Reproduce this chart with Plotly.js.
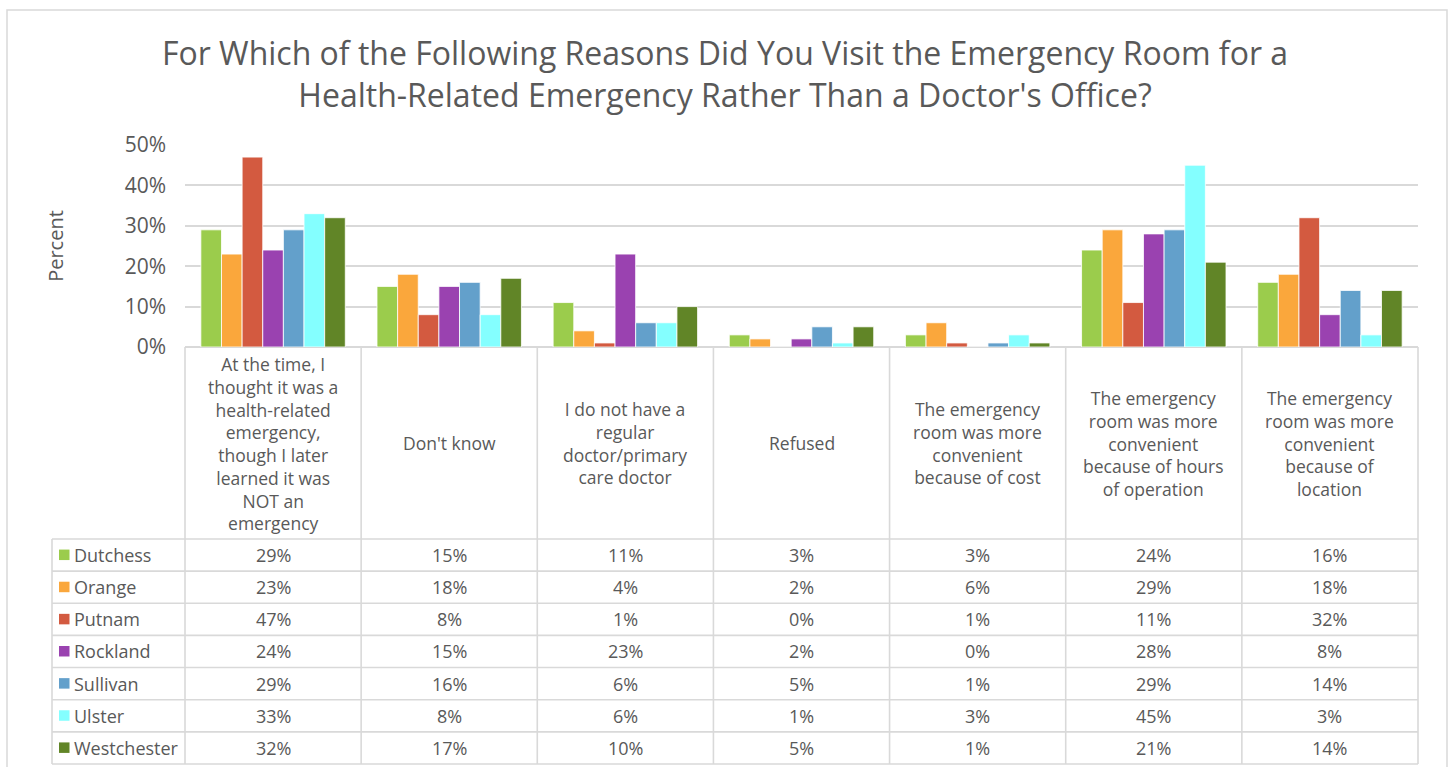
<!DOCTYPE html>
<html>
<head>
<meta charset="utf-8">
<script src="https://cdn.plot.ly/plotly-3.0.1.min.js"></script>
<style>html,body{margin:0;padding:0;background:#fff;}#chart{width:1450px;height:767px;}</style>
</head>
<body>
<div id="chart"></div>
<script>
// ---- data ----
const categories = [
  "At the time, I thought it was a health-related emergency, though I later learned it was NOT an emergency",
  "Don't know",
  "I do not have a regular doctor/primary care doctor",
  "Refused",
  "The emergency room was more convenient because of cost",
  "The emergency room was more convenient because of hours of operation",
  "The emergency room was more convenient because of location"
];
const tickLabels = [
  "At the time, I<br>thought it was a<br>health-related<br>emergency,<br>though I later<br>learned it was<br>NOT an<br>emergency",
  "Don't know",
  "I do not have a<br>regular<br>doctor/primary<br>care doctor",
  "Refused",
  "The emergency<br>room was more<br>convenient<br>because of cost",
  "The emergency<br>room was more<br>convenient<br>because of hours<br>of operation",
  "The emergency<br>room was more<br>convenient<br>because of<br>location"
];
const yTickVals = [0, 10, 20, 30, 40, 50];
const yTickLabels = ["0%", "10%", "20%", "30%", "40%", "50%"];
const seriesNames = ["Dutchess", "Orange", "Putnam", "Rockland", "Sullivan", "Ulster", "Westchester"];
const dutchess    = [29, 15, 11, 3, 3, 24, 16];
const orange      = [23, 18, 4, 2, 6, 29, 18];
const putnam      = [47, 8, 1, 0, 1, 11, 32];
const rockland    = [24, 15, 23, 2, 0, 28, 8];
const sullivan    = [29, 16, 6, 5, 1, 29, 14];
const ulster      = [33, 8, 6, 1, 3, 45, 3];
const westchester = [32, 17, 10, 5, 1, 21, 14];
const seriesValues = [dutchess, orange, putnam, rockland, sullivan, ulster, westchester];
const colors = ["#9BCC4C", "#FAA73C", "#D35A40", "#9A42B0", "#63A0CB", "#84FFFF", "#618527"];

// ---- geometry helpers (pixel -> paper) ----
const W = 1450, H = 767;
const M = {l: 185, r: 32, t: 145, b: 420};
const PW = W - M.l - M.r, PH = H - M.t - M.b;
const px = v => (v - M.l) / PW;
const py = v => (H - M.b - v) / PH;

const FONT = "Open Sans, Noto Sans, sans-serif";
const TXT = "#595959";
const LINE = "#d9d9d9";

const traces = seriesNames.map((name, i) => ({
  type: "bar",
  name: name,
  x: categories,
  y: seriesValues[i],
  marker: {color: colors[i], line: {color: "rgba(255,255,255,0.8)", width: 1}},
  hovertemplate: name + ": %{y}%<extra></extra>"
}));

const shapes = [];
const annotations = [];
const tableTop = H - M.b;     // x-axis line
const rowsTop = 539;
const rowH = 32.14;
const nRows = seriesNames.length;
const tableBottom = rowsTop + rowH * nRows;
const legLeft = 52;
const lw = 1.6;

// outer chart border
shapes.push({type: "rect", xref: "paper", yref: "paper", x0: px(7), x1: px(1447), y0: py(10), y1: py(800),
  line: {color: LINE, width: 1.5}, fillcolor: "rgba(0,0,0,0)", layer: "below"});

// vertical lines of table columns
for (let k = 0; k <= categories.length; k++) {
  const xx = k / categories.length;
  shapes.push({type: "line", xref: "paper", yref: "paper", x0: xx, x1: xx, y0: py(tableTop), y1: py(tableBottom),
    line: {color: LINE, width: lw}});
}
// legend column left border
shapes.push({type: "line", xref: "paper", yref: "paper", x0: px(legLeft), x1: px(legLeft), y0: py(rowsTop), y1: py(tableBottom),
  line: {color: LINE, width: lw}});
// horizontal row lines
for (let r = 0; r <= nRows; r++) {
  const yy = py(rowsTop + r * rowH);
  shapes.push({type: "line", xref: "paper", yref: "paper", x0: px(legLeft), x1: 1, y0: yy, y1: yy,
    line: {color: LINE, width: lw}});
}

// header category labels
categories.forEach((c, k) => {
  annotations.push({xref: "x", yref: "paper", x: c, y: py((tableTop + rowsTop) / 2),
    text: tickLabels[k], showarrow: false, xanchor: "center", yanchor: "middle", align: "center",
    font: {family: FONT, size: 17.5, color: TXT}});
});

// legend keys + values
seriesNames.forEach((name, i) => {
  const cy = rowsTop + rowH * (i + 0.5);
  shapes.push({type: "rect", xref: "paper", yref: "paper", x0: px(59), x1: px(69.5), y0: py(cy - 5.5), y1: py(cy + 5),
    line: {width: 0}, fillcolor: colors[i]});
  annotations.push({xref: "paper", yref: "paper", x: px(72), y: py(cy), text: name, showarrow: false,
    xanchor: "left", yanchor: "middle", font: {family: FONT, size: 18, color: TXT}});
  seriesValues[i].forEach((v, k) => {
    annotations.push({xref: "x", yref: "paper", x: categories[k], y: py(cy), text: v + "%", showarrow: false,
      xanchor: "center", yanchor: "middle", font: {family: FONT, size: 18, color: TXT}});
  });
});

const layout = {
  width: W, height: H,
  margin: M,
  paper_bgcolor: "#ffffff",
  plot_bgcolor: "#ffffff",
  showlegend: false,
  barmode: "group",
  bargap: 0.18,
  bargroupgap: 0,
  title: {
    text: "For Which of the Following Reasons Did You Visit the Emergency Room for a<br>Health-Related Emergency Rather Than a Doctor's Office?",
    font: {family: FONT, size: 32, color: TXT},
    x: 0.5, xref: "container", xanchor: "center",
    y: 1 - 65 / H, yref: "container", yanchor: "middle"
  },
  xaxis: {
    type: "category",
    showticklabels: false,
    showgrid: false,
    zeroline: false,
    showline: false,
    ticks: "",
    fixedrange: true
  },
  yaxis: {
    range: [0, 50],
    tickmode: "array",
    tickvals: yTickVals,
    ticktext: yTickLabels,
    showgrid: true,
    gridcolor: LINE,
    gridwidth: 1.5,
    zeroline: true,
    zerolinecolor: LINE,
    zerolinewidth: 2,
    showline: false,
    ticks: "",
    ticklabelstandoff: 18,
    tickfont: {family: FONT, size: 21, color: TXT},
    title: {text: "Percent", font: {family: FONT, size: 20, color: TXT}, standoff: 55},
    fixedrange: true
  },
  shapes: shapes,
  annotations: annotations
};

Plotly.newPlot("chart", traces, layout, {displayModeBar: false, responsive: false});
</script>
</body>
</html>
